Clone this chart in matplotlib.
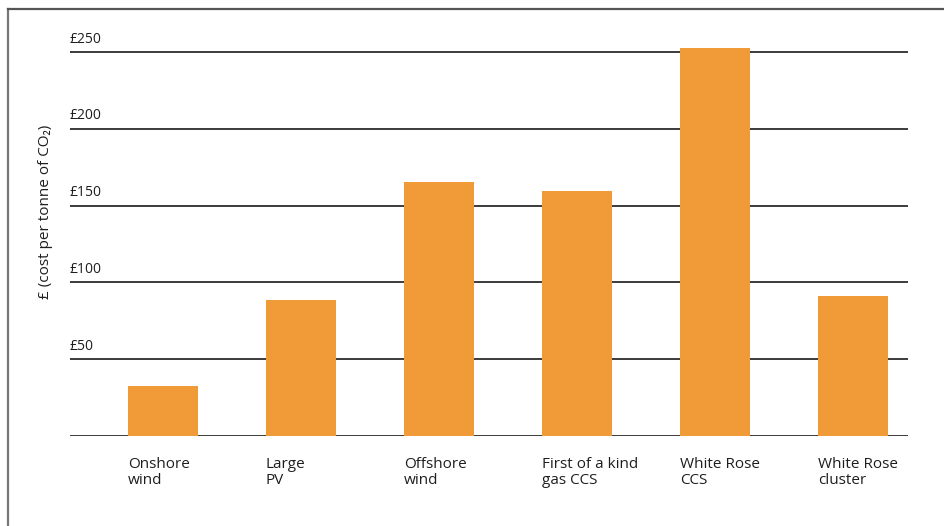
import matplotlib
matplotlib.use("Agg")
import matplotlib.pyplot as plt
from matplotlib.lines import Line2D
from matplotlib.transforms import blended_transform_factory

categories = ["Onshore\nwind", "Large\nPV", "Offshore\nwind", "First of a kind\ngas CCS",
              "White Rose\nCCS", "White Rose\ncluster"]
values = [32.5, 88.5, 165.5, 159.5, 252.5, 91]
yticks = [50, 100, 150, 200, 250]
ytick_labels = ["£50", "£100", "£150", "£200", "£250"]
ylabel = "£ (cost per tonne of CO₂)"

plt.rcParams['font.family'] = ['Open Sans', 'DejaVu Sans']
text_color = "#1e1e1e"
bar_color = "#F09B38"

fig = plt.figure(figsize=(9.44, 5.26), dpi=100)
ax = fig.add_axes([70/944, 1-436/526, (908-70)/944, (436-36.6)/526])

x = list(range(len(categories)))
width = 0.51
ax.bar(x, values, width=width, color=bar_color, zorder=3)

ax.set_xlim(-0.674, 5.40)
ax.set_ylim(0, 260)

for v in [0] + yticks:
    ax.axhline(v, color="#1a1a1a", lw=1.2, zorder=1)

trans = blended_transform_factory(ax.transAxes, ax.transData)
for v, lab in zip(yticks, ytick_labels):
    ax.text(0.0, v + 3.5, lab, transform=trans, ha="left", va="bottom",
            fontsize=10, color=text_color)

ax.set_xticks([i - width/2 for i in x])
ax.set_xticklabels(categories, ha="left", va="top", fontsize=11, color=text_color,
                   linespacing=1.15)
ax.tick_params(axis="x", length=0, pad=15)
ax.set_yticks([])
for s in ax.spines.values():
    s.set_visible(False)

fig.text(46/944, 1-212/526, ylabel, rotation=90, ha="center", va="center",
         fontsize=11, color=text_color)

# outer frame (top and left edges)
fy = 1 - 9/526
fx = 8/944
fig.add_artist(Line2D([fx, fx], [0, fy], transform=fig.transFigure, color="#777777", lw=1.6))
fig.add_artist(Line2D([fx, 1], [fy, fy], transform=fig.transFigure, color="#555555", lw=1.6))

fig.savefig("out.png", dpi=100)
